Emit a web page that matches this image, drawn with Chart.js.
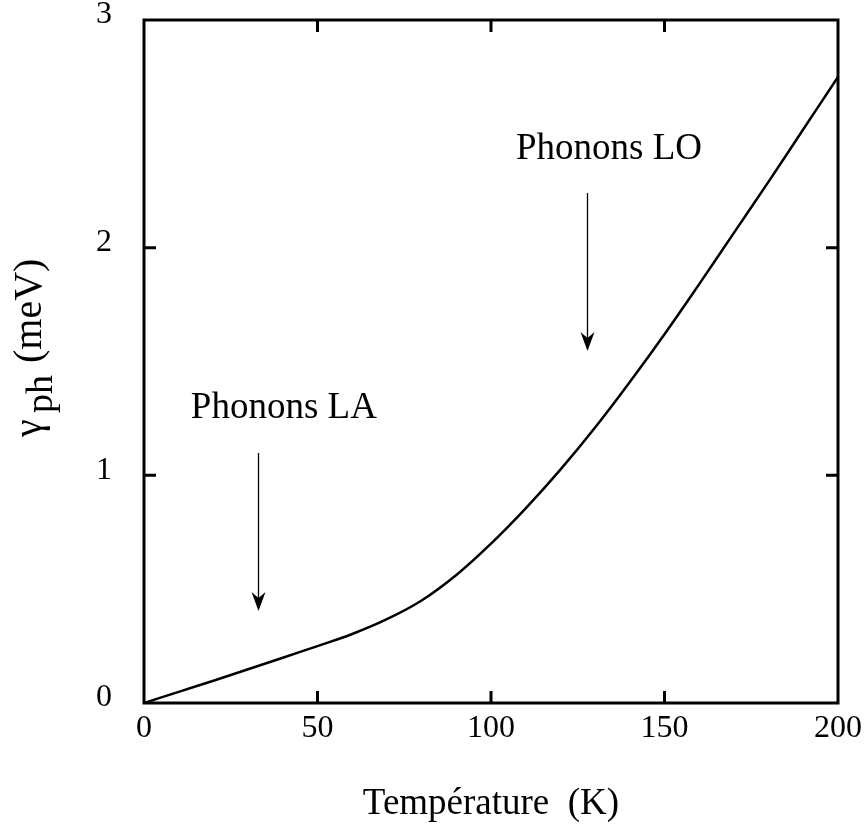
<!DOCTYPE html>
<html>
<head>
<meta charset="utf-8">
<script src="https://cdn.jsdelivr.net/npm/chart.js@4.4.1/dist/chart.umd.min.js"></script>
<style>
  html, body { margin: 0; padding: 0; background: #fff; }
  #wrap { width: 866px; height: 826px; }
</style>
</head>
<body>
<div id="wrap"><canvas id="gammaChart" width="866" height="826"></canvas></div>
<script>
// temperature (K) and phonon broadening gamma_ph (meV)
const temperature = [0, 10, 20, 30, 40, 50, 60, 70, 80, 90, 100, 110, 120, 130, 140, 150, 160, 170, 180, 190, 200];
const gammaPh = [0, 0.049, 0.098, 0.148, 0.199, 0.25, 0.303, 0.368, 0.45, 0.562, 0.70, 0.855, 1.025, 1.21, 1.41, 1.62, 1.84, 2.065, 2.29, 2.52, 2.75];

const xTicks = [0, 50, 100, 150, 200];
const yTicks = [0, 1, 2, 3];

// annotations, in data units: label position and arrow (from -> tip)
const notes = [
  { text: 'Phonons LA', x: 40.3, y: 1.252, arrowX: 32.9, arrowFrom: 1.098, arrowTo: 0.404 },
  { text: 'Phonons LO', x: 134, y: 2.388, arrowX: 127.6, arrowFrom: 2.24, arrowTo: 1.546 },
];

const SERIF = "'Liberation Serif', 'Times New Roman', serif";

// frame, inward ticks on all four sides, y title, arrows and labels
const decorations = {
  id: 'decorations',
  afterDraw(chart) {
    const { ctx, chartArea: a, scales: { x, y } } = chart;
    ctx.save();
    ctx.strokeStyle = '#000';
    ctx.lineWidth = 3;
    ctx.strokeRect(a.left, a.top, a.right - a.left, a.bottom - a.top);

    const tl = 12;
    ctx.beginPath();
    xTicks.forEach(v => {
      const px = x.getPixelForValue(v);
      if (v === xTicks[0] || v === xTicks[xTicks.length - 1]) return;
      ctx.moveTo(px, a.bottom); ctx.lineTo(px, a.bottom - tl);
      ctx.moveTo(px, a.top); ctx.lineTo(px, a.top + tl);
    });
    yTicks.forEach(v => {
      const py = y.getPixelForValue(v);
      if (v === yTicks[0] || v === yTicks[yTicks.length - 1]) return;
      ctx.moveTo(a.left, py); ctx.lineTo(a.left + tl, py);
      ctx.moveTo(a.right, py); ctx.lineTo(a.right - tl, py);
    });
    ctx.stroke();

    // arrows + labels
    ctx.fillStyle = '#000';
    ctx.font = '37px ' + SERIF;
    ctx.textAlign = 'center';
    ctx.textBaseline = 'alphabetic';
    notes.forEach(n => {
      ctx.fillText(n.text, x.getPixelForValue(n.x), y.getPixelForValue(n.y));
      const ax = Math.round(x.getPixelForValue(n.arrowX)) + 0.5;
      const y0 = y.getPixelForValue(n.arrowFrom);
      const y1 = y.getPixelForValue(n.arrowTo);
      ctx.lineWidth = 1.3;
      ctx.beginPath();
      ctx.moveTo(ax, y0); ctx.lineTo(ax, y1 - 12);
      ctx.stroke();
      ctx.beginPath();
      ctx.moveTo(ax, y1);
      ctx.lineTo(ax - 7, y1 - 19);
      ctx.lineTo(ax, y1 - 13);
      ctx.lineTo(ax + 7, y1 - 19);
      ctx.closePath();
      ctx.fill();
    });

    // y title: gamma with subscript ph, rotated
    ctx.translate(41, 437);
    ctx.rotate(-Math.PI / 2);
    ctx.textAlign = 'left';
    ctx.font = '40px ' + SERIF;
    ctx.fillText('\u03b3', 0, 0);
    ctx.font = '38px ' + SERIF;
    ctx.fillText('ph', 24, 11);
    ctx.font = '40px ' + SERIF;
    ctx.fillText('(meV)', 74, 0);
    ctx.restore();
  }
};

const ctx = document.getElementById('gammaChart').getContext('2d');
const gammaChart = new Chart(ctx, {
  type: 'line',
  data: {
    datasets: [{
      data: temperature.map((t, i) => ({ x: t, y: gammaPh[i] })),
      borderColor: '#000',
      borderWidth: 2.5,
      pointRadius: 0,
      fill: false,
      tension: 0.4,
    }],
  },
  options: {
    responsive: false,
    animation: false,
    devicePixelRatio: 1,
    layout: { padding: { top: 20, right: 28, left: 0, bottom: 0 } },
    plugins: {
      legend: { display: false },
      tooltip: { enabled: false },
    },
    scales: {
      x: {
        type: 'linear',
        min: 0,
        max: 200,
        afterBuildTicks: s => { s.ticks = xTicks.map(v => ({ value: v })); },
        afterFit: s => { s.height = 123; s.paddingLeft = 0; s.paddingRight = 0; },
        grid: { display: false },
        border: { display: false },
        ticks: { color: '#000', font: { family: SERIF, size: 32 }, padding: -2, maxRotation: 0 },
        title: {
          display: true,
          text: 'Température  (K)',
          color: '#000',
          font: { family: SERIF, size: 37 },
          padding: { top: 0, bottom: 0 },
        },
      },
      y: {
        min: 0,
        max: 3,
        afterBuildTicks: s => { s.ticks = yTicks.map(v => ({ value: v })); },
        afterFit: s => { s.width = 144; s.paddingTop = 0; s.paddingBottom = 0; },
        grid: { display: false },
        border: { display: false },
        ticks: { color: '#000', font: { family: SERIF, size: 32 }, padding: 24, labelOffset: -5 },
      },
    },
  },
  plugins: [decorations],
});
</script>
</body>
</html>
